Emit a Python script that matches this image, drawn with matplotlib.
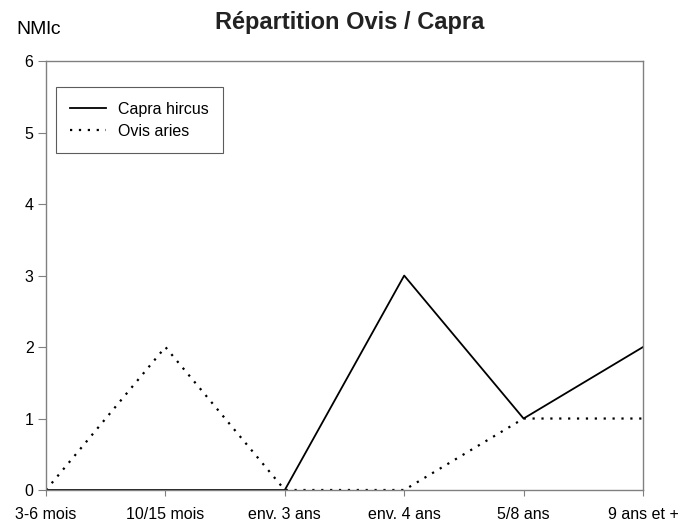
import matplotlib
matplotlib.use("Agg")
from matplotlib import pyplot as plt

categories = ["3-6 mois", "10/15 mois", "env. 3 ans", "env. 4 ans", "5/8 ans", "9 ans et +"]
capra_hircus = [0, 0, 0, 3, 1, 2]
ovis_aries = [0, 2, 0, 0, 1, 1]

plt.rcParams["font.family"] = ["Liberation Sans", "DejaVu Sans"]

fig = plt.figure(figsize=(6.97, 5.27), dpi=100)
ax = fig.add_axes([0.066, 0.0702, 0.8565, 0.8138])

x = range(len(categories))
ax.plot(x, capra_hircus, color="black", linewidth=1.3, label="Capra hircus")
ax.plot(x, ovis_aries, color="black", linewidth=1.6, linestyle=(0, (1, 3)), label="Ovis aries")

ax.set_xlim(0, len(categories) - 1)
ax.set_ylim(0, 6)
ax.set_xticks(list(x))
ax.set_xticklabels(categories)
ax.set_yticks(range(7))

for s in ax.spines.values():
    s.set_color("#808080")
    s.set_linewidth(1.0)
ax.tick_params(axis="both", colors="#808080", labelcolor="black", labelsize=11.5)
ax.tick_params(axis="x", pad=8, length=4.5)
ax.tick_params(axis="y", pad=3.5, length=5.5)

# titre et unite placés a la main
fig.text(350 / 697, 1 - 22 / 527, "Répartition Ovis / Capra", fontsize=17,
         fontweight="bold", ha="center", va="center", color="#222222")
fig.text(38.5 / 697, 1 - 29 / 527, "NMlc", fontsize=14, va="center", ha="center")

leg = ax.legend(loc="upper left", bbox_to_anchor=(0.0168, 0.939), borderaxespad=0,
                fontsize=11.5, frameon=True, fancybox=False, edgecolor="#333333",
                handlelength=2.2, borderpad=0.9, labelspacing=0.45, handletextpad=0.8)
leg.get_frame().set_linewidth(0.8)

plt.savefig("out.png", dpi=100)
